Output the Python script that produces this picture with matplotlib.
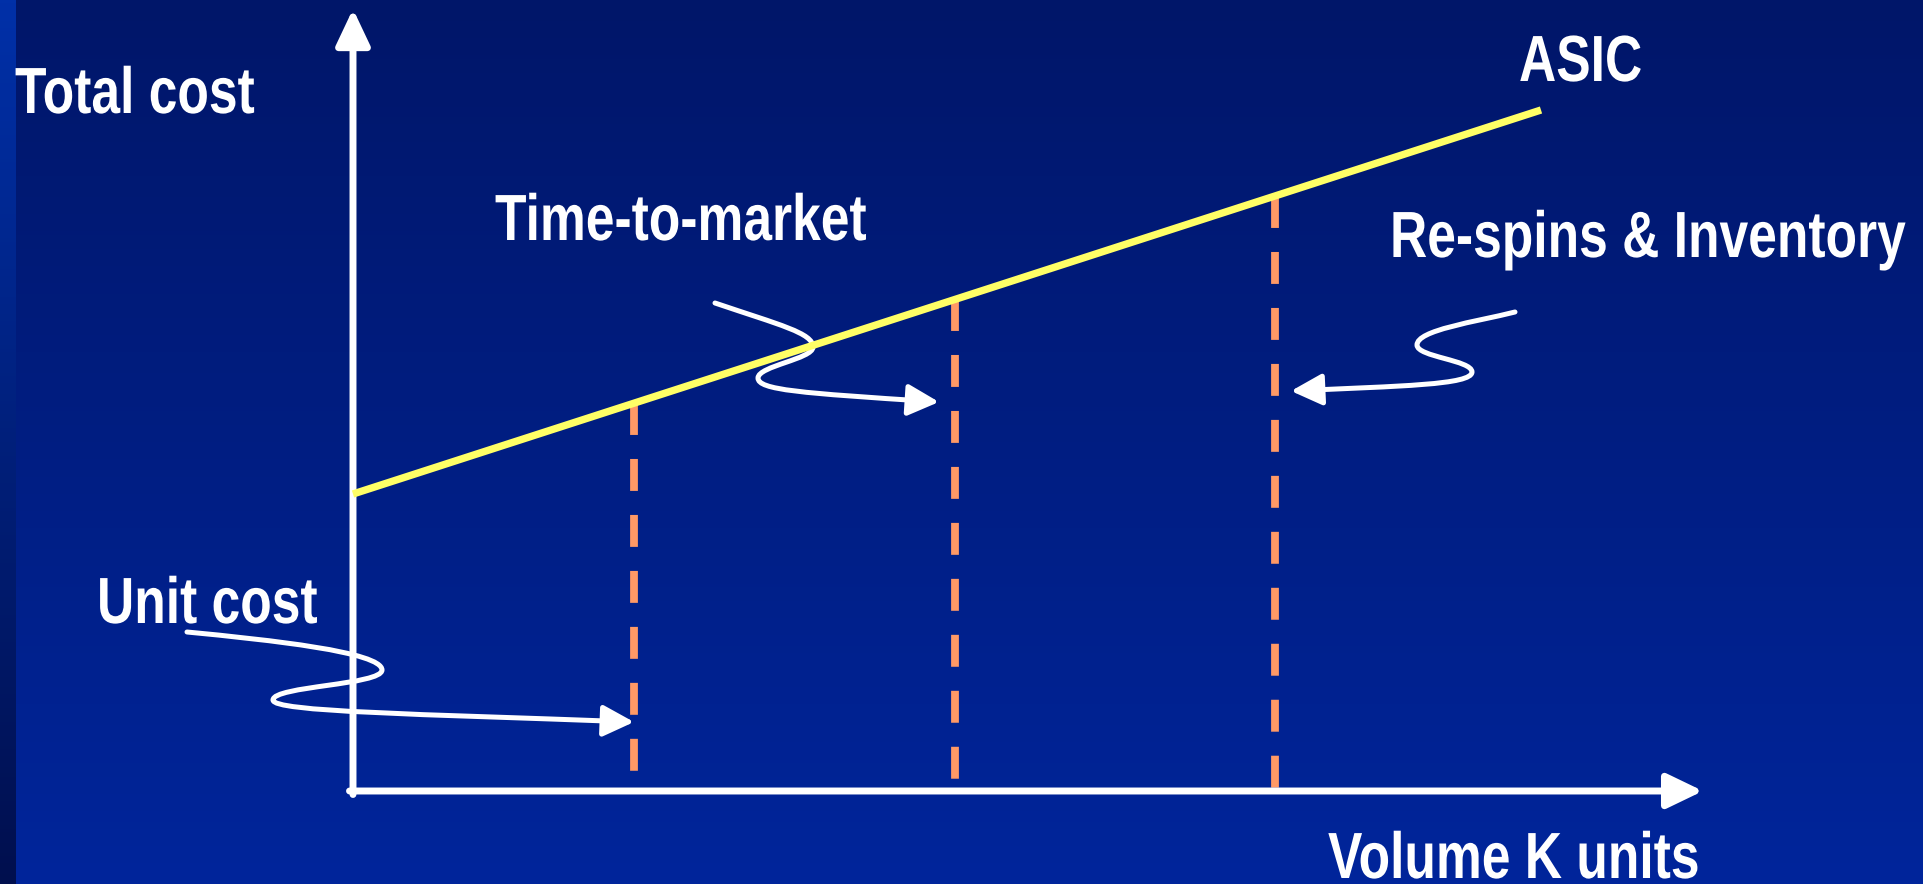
import numpy as np
import matplotlib
matplotlib.use('Agg')
import matplotlib.pyplot as plt
from matplotlib.patches import FancyArrowPatch
from matplotlib.path import Path
from matplotlib.patheffects import AbstractPathEffect
from matplotlib.transforms import Affine2D

plt.rcParams['font.family'] = ['Liberation Sans', 'DejaVu Sans']
plt.rcParams['lines.scale_dashes'] = False

# ASIC total cost line: (volume, cost) at start and end
asic_volume = [0.0, 118.8]
asic_cost = [29.7, 68.1]

# vertical dashed markers (volume) and where they stop at the bottom
marker_volume = [28.1, 60.2, 92.2]
marker_bottom = [1.6, 0.8, 0.0]

# axis extents
x_axis_end = 135.0
y_axis_end = 78.2

# labels: text, x, baseline y
labels = [
    ('Total cost', -33.8, 67.8),
    ('ASIC', 116.6, 71.0),
    ('Time-to-market', 14.2, 55.1),
    ('Re-spins & Inventory', 103.7, 53.4),
    ('Unit cost', -25.6, 16.8),
    ('Volume K units', 97.5, -8.7),
]

# S-shaped callout arrows, cubic bezier control points (start, then 3 per segment)
arrow_time = [(36.2, 48.8), (42.7, 46.6), (46.0, 45.8), (46.0, 44.4),
              (46.0, 43.2), (40.5, 42.5), (40.5, 41.3),
              (40.5, 40.1), (44.7, 39.8), (58.6, 38.9)]
arrow_respin = [(116.2, 47.9), (112.2, 46.9), (106.4, 46.1), (106.4, 44.6),
                (106.4, 43.4), (111.9, 43.1), (111.9, 41.9),
                (111.9, 40.6), (104.7, 40.5), (93.8, 40.0)]
arrow_unit = [(-16.6, 15.9), (-8.3, 15.1), (2.9, 13.9), (2.9, 12.1),
              (2.9, 10.6), (-8.0, 10.5), (-8.0, 9.1),
              (-8.0, 7.9), (6.7, 7.7), (28.1, 6.9)]


class Condense(AbstractPathEffect):
    """squeeze glyphs horizontally (narrow font look)"""
    def __init__(self, sx):
        super().__init__()
        self.sx = sx

    def draw_path(self, renderer, gc, tpath, affine, rgbFace=None):
        renderer.draw_path(gc, tpath, Affine2D().scale(self.sx, 1) + affine, rgbFace)


fig = plt.figure(figsize=(19.24, 8.84), dpi=100)
ax = fig.add_axes([0, 0, 1, 1])
x0, x1, y0, y1 = -35.3, 157.1, -9.3, 79.1
ax.set_xlim(x0, x1)
ax.set_ylim(y0, y1)
ax.axis('off')

# background gradient (top dark navy -> brighter blue at bottom)
top = np.array([0, 22, 105]) / 255
bot = np.array([0, 37, 155]) / 255
t = np.linspace(0, 1, 256)[:, None]
grad = (top * (1 - t) + bot * t)[:, None, :]
ax.imshow(grad, extent=[x0, x1, y0, y1], aspect='auto', zorder=0)
# left strip with reversed gradient
s_top = np.array([0, 48, 168]) / 255
s_bot = np.array([0, 15, 78]) / 255
strip = (s_top * (1 - t) + s_bot * t)[:, None, :]
ax.imshow(strip, extent=[x0, x0 + 1.6, y0, y1], aspect='auto', zorder=0)

# dashed markers from the ASIC line down
tops = np.interp(marker_volume, asic_volume, asic_cost)
for xv, yt, yb in zip(marker_volume, tops, marker_bottom):
    ax.plot([xv, xv], [yt, yb], color='#ff9966', lw=5.6,
            linestyle=(0, (23, 17.3)), solid_capstyle='butt', zorder=2)

# ASIC line
ax.plot(asic_volume, asic_cost, color='#ffff66', lw=5.3,
        solid_capstyle='butt', zorder=4)

# axes with arrowheads
ax.add_patch(FancyArrowPatch((0, -0.35), (0, y_axis_end),
                             arrowstyle='-|>,head_length=22,head_width=10.4',
                             color='white', lw=5, shrinkA=0, shrinkB=0, zorder=3))
ax.add_patch(FancyArrowPatch((-0.35, 0), (x_axis_end, 0),
                             arrowstyle='-|>,head_length=22,head_width=10.6',
                             color='white', lw=5, shrinkA=0, shrinkB=0, zorder=3))

# S-shaped callouts
codes = [Path.MOVETO] + [Path.CURVE4] * 9
for pts in [arrow_time, arrow_respin, arrow_unit]:
    ax.add_patch(FancyArrowPatch(path=Path(pts, codes),
                                 arrowstyle='-|>,head_length=19,head_width=9.6',
                                 color='white', lw=3.6, zorder=3))

for txt, xt, yt in labels:
    ax.text(xt, yt, txt, color='white', fontsize=47, fontweight='bold',
            ha='left', va='baseline', zorder=5,
            path_effects=[Condense(0.79)])

fig.savefig('out.png', dpi=100)
